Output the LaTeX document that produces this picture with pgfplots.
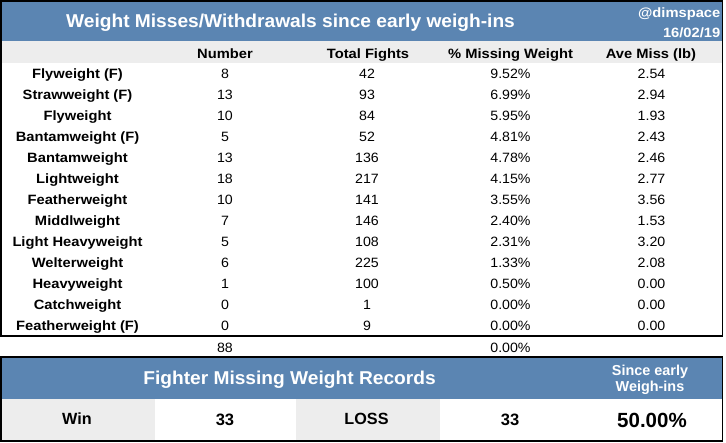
\documentclass[border=0pt]{standalone}
\usepackage{pgfplots}
\pgfplotsset{compat=1.18}
\usepackage{pgfplotstable}
\usepackage{fontspec}
\setmainfont{Liberation Sans}
\newfontfamily\tabb[FakeStretch=1.09]{Liberation Sans}
\newfontfamily\tabr[FakeStretch=1.05]{Liberation Sans}
\definecolor{hdrblue}{HTML}{5B85B2}
\definecolor{cellgray}{HTML}{EDEDED}

% baseline y (px from top), class, number of misses, total fights, % missing, average miss (lb)
\pgfplotstableread{
y name number total pct ave
79  {Flyweight (F)}      8   42  9.52 2.54
100 {Strawweight (F)}    13  93  6.99 2.94
121 {Flyweight}          10  84  5.95 1.93
142 {Bantamweight (F)}   5   52  4.81 2.43
163 {Bantamweight}       13  136 4.78 2.46
184 {Lightweight}        18  217 4.15 2.77
205 {Featherweight}      10  141 3.55 3.56
226 {Middlweight}        7   146 2.40 1.53
247 {Light Heavyweight}  5   108 2.31 3.20
268 {Welterweight}       6   225 1.33 2.08
289 {Heavyweight}        1   100 0.50 0.00
310 {Catchweight}        0   1   0.00 0.00
331 {Featherweight (F)}  0   9   0.00 0.00
}\weights

\begin{document}
\begin{tikzpicture}
\begin{axis}[
  width=726pt, height=443pt, scale only axis,
  xmin=0, xmax=726, ymin=0, ymax=443, y dir=reverse,
  hide axis, clip=false,
  /pgf/number format/assume math mode=true,
  every node near coord/.append style={anchor=base, inner sep=0pt, black},
]
% backgrounds
\path (0,0) rectangle (726,443);
\fill[hdrblue] (0,0) rectangle (723,41);
\fill[cellgray] (0,41) rectangle (723,63);
\fill[hdrblue] (0,357) rectangle (723,399);
\fill[cellgray] (0,399) rectangle (155,441);
\fill[cellgray] (296,399) rectangle (440,441);
\draw[line width=1.6pt] (0.8,0.8) rectangle (722.4,336);
\draw[line width=1.6pt] (0.8,357) rectangle (722.4,440.8);

% titles
\node[anchor=base, white, font=\fontsize{18.6}{20}\selectfont\bfseries\addfontfeature{FakeStretch=1.03}] at (290.5,27.3) {Weight Misses/Withdrawals since early weigh-ins};
\node[anchor=base east, white, font=\fontsize{13.5}{15}\selectfont\tabb\bfseries, inner sep=0pt] at (720.5,17.3) {@dimspace};
\node[anchor=base east, white, font=\fontsize{13.5}{15}\selectfont\tabb\bfseries, inner sep=0pt] at (720.5,37.7) {16/02/19};

% header row
\begin{scope}[every node/.style={anchor=base, inner sep=0pt, font=\fontsize{13.5}{15}\selectfont\tabb\bfseries}]
\node at (225,58.7) {Number};
\node at (368,58.7) {Total Fights};
\node at (510.5,58.7) {\% Missing Weight};
\node at (651,58.7) {Ave Miss (lb)};
\end{scope}

% table body
\addplot[draw=none, mark=none, point meta=explicit symbolic,
  nodes near coords={\pgfplotspointmeta},
  every node near coord/.append style={font=\fontsize{13.5}{15}\selectfont\tabb\bfseries}]
  table[x expr=77.5, y=y, meta=name] {\weights};
\addplot[draw=none, mark=none, point meta=explicit,
  nodes near coords={\pgfmathprintnumber{\pgfplotspointmeta}},
  every node near coord/.append style={font=\fontsize{13.5}{15}\selectfont\tabr}]
  table[x expr=225, y=y, meta=number] {\weights};
\addplot[draw=none, mark=none, point meta=explicit,
  nodes near coords={\pgfmathprintnumber{\pgfplotspointmeta}},
  every node near coord/.append style={font=\fontsize{13.5}{15}\selectfont\tabr}]
  table[x expr=367, y=y, meta=total] {\weights};
\addplot[draw=none, mark=none, point meta=explicit,
  nodes near coords={\pgfmathprintnumber[fixed,fixed zerofill,precision=2]{\pgfplotspointmeta}\%},
  every node near coord/.append style={font=\fontsize{13.5}{15}\selectfont\tabr}]
  table[x expr=510.5, y=y, meta=pct] {\weights};
\addplot[draw=none, mark=none, point meta=explicit,
  nodes near coords={\pgfmathprintnumber[fixed,fixed zerofill,precision=2]{\pgfplotspointmeta}},
  every node near coord/.append style={font=\fontsize{13.5}{15}\selectfont\tabr}]
  table[x expr=651.5, y=y, meta=ave] {\weights};

% totals row
\addplot[draw=none, mark=none, point meta=explicit,
  nodes near coords={\pgfmathprintnumber{\pgfplotspointmeta}},
  every node near coord/.append style={font=\fontsize{13.5}{15}\selectfont\tabr}]
  coordinates {(225,353) [88]};
\addplot[draw=none, mark=none, point meta=explicit,
  nodes near coords={\pgfmathprintnumber[fixed,fixed zerofill,precision=2]{\pgfplotspointmeta}\%},
  every node near coord/.append style={font=\fontsize{13.5}{15}\selectfont\tabr}]
  coordinates {(510.5,353) [0]};

% bottom box
\node[anchor=base, white, font=\fontsize{18.6}{20}\selectfont\bfseries\addfontfeature{FakeStretch=1.03}, inner sep=0pt] at (289.5,384.3) {Fighter Missing Weight Records};
\node[anchor=base, white, font=\fontsize{14.4}{16}\selectfont\bfseries, inner sep=0pt] at (650,376) {Since early};
\node[anchor=base, white, font=\fontsize{14.4}{16}\selectfont\bfseries, inner sep=0pt] at (650,391.7) {Weigh-ins};
\node[anchor=base, font=\fontsize{16.2}{18}\selectfont\bfseries, inner sep=0pt] at (77,424.8) {Win};
\node[anchor=base, font=\fontsize{16.2}{18}\selectfont\bfseries, inner sep=0pt] at (366.5,424.8) {LOSS};
\addplot[draw=none, mark=none, point meta=explicit,
  nodes near coords={\pgfmathprintnumber{\pgfplotspointmeta}},
  every node near coord/.append style={font=\fontsize{16.5}{18}\selectfont\bfseries}]
  coordinates {(225,425.3) [33] (510,425.3) [33]};
\addplot[draw=none, mark=none, point meta=explicit,
  nodes near coords={\pgfmathprintnumber[fixed,fixed zerofill,precision=2]{\pgfplotspointmeta}\%},
  every node near coord/.append style={font=\fontsize{20.5}{22}\selectfont\bfseries}]
  coordinates {(652,428) [50]};
\end{axis}
\end{tikzpicture}
\end{document}
